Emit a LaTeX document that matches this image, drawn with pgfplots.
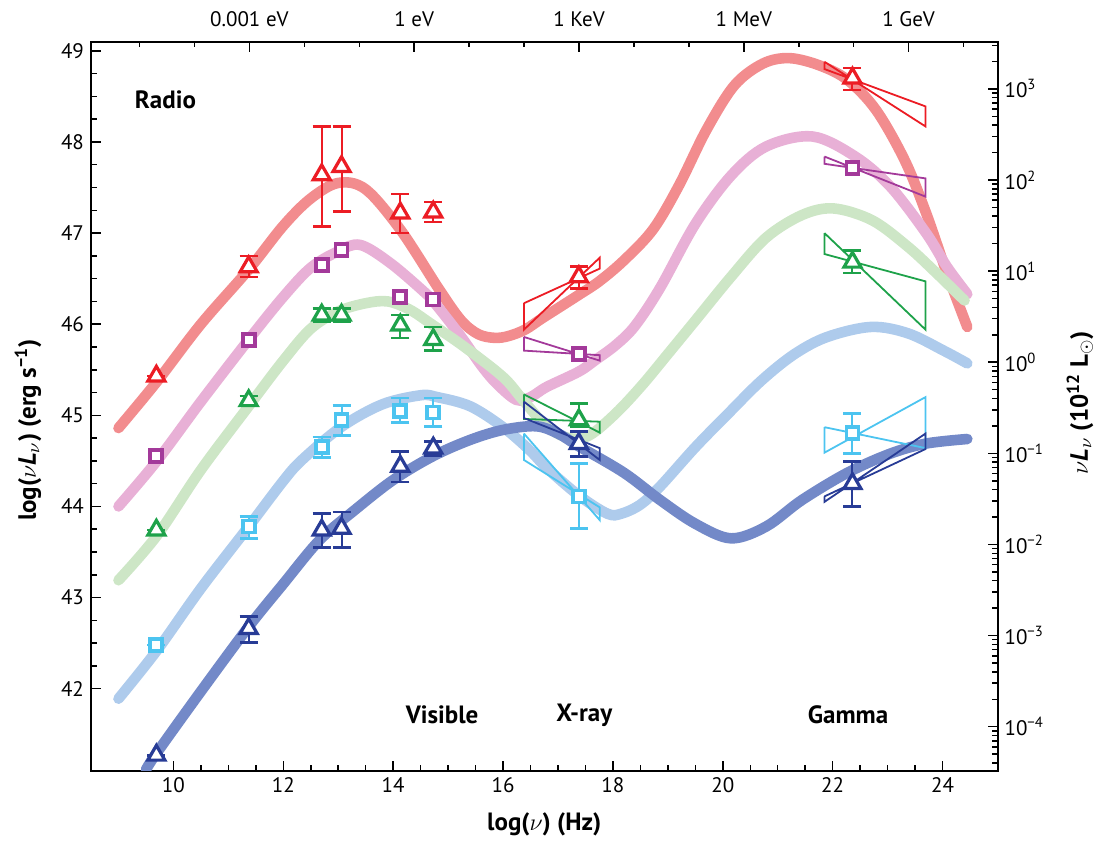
\documentclass[border=0pt]{standalone}
\usepackage{pgfplots}
\pgfplotsset{compat=1.18}
\usepackage{pgfplotstable}
\usepackage{fontspec}
\setmainfont{PT Sans}

\definecolor{cRed}{HTML}{F28C8E}
\definecolor{cPink}{HTML}{E8B0D6}
\definecolor{cGreen}{HTML}{CDE6C6}
\definecolor{cLBlue}{HTML}{AECBEC}
\definecolor{cDBlue}{HTML}{7389C8}
\definecolor{mRed}{HTML}{EC1C24}
\definecolor{mMag}{HTML}{A3399A}
\definecolor{mGreen}{HTML}{1EA24A}
\definecolor{mCyan}{HTML}{4CC4F0}
\definecolor{mNavy}{HTML}{283C96}

% data points: x, y, error plus, error minus
\pgfplotstableread{
x y ep em
9.69 45.43 0 0
11.37 46.63 0.12 0.11
12.70 47.64 0.53 0.57
13.06 47.73 0.44 0.49
14.13 47.22 0.21 0.22
14.73 47.23 0.11 0.11
17.38 46.52 0.11 0.13
22.36 48.70 0.11 0.13
}\redpts
\pgfplotstableread{
x y
9.69 44.55
11.37 45.83
12.70 46.65
13.06 46.81
14.13 46.30
14.73 46.27
17.38 45.67
22.36 47.71
}\magpts
\pgfplotstableread{
x y ep em
9.69 43.74 0 0
11.37 45.16 0.05 0.05
12.70 46.10 0.07 0.07
13.06 46.10 0.07 0.07
14.13 45.99 0.11 0.14
14.73 45.83 0.14 0.12
17.38 44.95 0.18 0.07
22.36 46.68 0.13 0.12
}\grnpts
\pgfplotstableread{
x y ep em
9.69 42.48 0 0
11.37 43.78 0.11 0.13
12.70 44.65 0.11 0.11
13.06 44.95 0.16 0.17
14.13 45.05 0.14 0.13
14.73 45.03 0.16 0.15
17.38 44.11 0.36 0.35
22.36 44.81 0.21 0.23
}\cyanpts
\pgfplotstableread{
x y ep em
9.69 41.27 0 0
11.37 42.66 0.13 0.15
12.70 43.74 0.18 0.19
13.06 43.76 0.18 0.21
14.13 44.44 0.16 0.17
14.73 44.64 0.07 0.08
17.38 44.69 0.13 0.14
22.36 44.25 0.24 0.25
}\navypts

\pgfplotsset{
  base/.style={scale only axis, width=453.25pt, height=364.5pt,
    xmin=8.5, xmax=25,
    tick align=inside,
    major tick length=5pt, minor tick length=2.8pt,
    every tick/.style={black, line width=0.75pt},
    /pgf/number format/assume math mode=true,
    tick label style={font=\fontsize{10.5}{12}\selectfont},
  },
  curve/.style={line width=5.3pt, line cap=round, line join=round, smooth, tension=0.55},
  bow/.style={line width=0.9pt, line join=miter, mark=none},
  errs/.style={only marks, mark=none, line width=1pt,
    error bars/y dir=both, error bars/y explicit,
    error bars/error mark=-,
    error bars/error bar style={line width=1pt},
    error bars/error mark options={rotate=90, line width=1.3pt, mark size=4.5pt}},
  tri/.style={only marks, mark=triangle*, mark size=4.9pt,
    mark options={fill=white, line width=1.6pt, solid}},
  sq/.style={only marks, mark=square*, mark size=3.0pt,
    mark options={fill=white, line width=1.9pt, solid}},
}

\begin{document}
\begin{tikzpicture}
\path[use as bounding box] (-45.5pt,-35.15pt) rectangle (509pt,385.35pt);

% ---------------- main axis -----------------
\begin{axis}[base,
  ymin=41.1, ymax=49.1,
  xtick={10,12,...,24}, minor x tick num=3,
  ytick={42,...,49}, minor y tick num=3,
  xtick pos=left, ytick pos=left,
  axis line style={line width=1pt},
  xlabel={\bfseries log($\nu$) (Hz)},
  ylabel={\bfseries log($\nu$\textbf{\textit{L}}$_{\nu}$) (erg s\textsuperscript{−1})},
  x label style={at={(axis description cs:0.5,-0.074)}, anchor=center, font=\fontsize{12.5}{15}\selectfont},
  y label style={at={(axis description cs:-0.0695,0.467)}, anchor=center, font=\fontsize{12.5}{15}\selectfont},
]

% model curves
\addplot[curve, cRed] coordinates {
(9.0,44.86)(9.7,45.37)(10.5,46.0)(11.37,46.6)(12.0,47.08)(12.5,47.38)(13.0,47.55)(13.5,47.48)(14.14,47.03)(14.85,46.37)(15.24,46.04)(15.55,45.89)(15.85,45.85)(16.1,45.87)(16.4,45.94)(16.7,46.06)(17.09,46.21)(17.4,46.33)(17.75,46.47)(18.2,46.7)(18.73,47.04)(19.2,47.52)(19.7,48.13)(20.21,48.62)(20.73,48.86)(21.21,48.92)(21.76,48.84)(22.27,48.68)(22.79,48.35)(23.31,47.8)(23.7,47.22)(24.08,46.56)(24.45,45.97)
};
\addplot[curve, cPink] coordinates {
(9.0,44.0)(9.7,44.5)(10.5,45.15)(11.37,45.83)(12.0,46.3)(12.5,46.62)(13.0,46.8)(13.4,46.87)(13.95,46.67)(14.59,46.34)(14.8,46.2)(15.24,45.86)(15.6,45.55)(15.88,45.35)(16.24,45.17)(16.5,45.2)(16.79,45.31)(17.38,45.48)(17.69,45.61)(18.05,45.77)(18.4,45.98)(18.86,46.4)(19.5,47.1)(20.15,47.63)(20.79,47.95)(21.63,48.06)(22.41,47.84)(23.05,47.51)(23.7,47.0)(24.08,46.63)(24.45,46.33)
};
% magenta squares sit beneath the green model curve
\addplot[mMag, sq] table[x=x, y=y] {\magpts};
\addplot[curve, cGreen] coordinates {
(9.0,43.19)(9.7,43.68)(10.5,44.4)(11.37,45.1)(12.0,45.6)(12.5,45.95)(13.0,46.14)(13.5,46.23)(13.9,46.25)(14.3,46.16)(14.7,46.0)(15.3,45.75)(16.0,45.42)(16.36,45.17)(16.79,44.88)(17.2,44.75)(17.57,44.78)(18.05,45.02)(18.53,45.33)(19.01,45.68)(19.5,46.04)(20.15,46.52)(20.79,46.95)(21.45,47.2)(22.02,47.27)(22.72,47.14)(23.37,46.85)(23.89,46.56)(24.4,46.26)
};
\addplot[curve, cLBlue] coordinates {
(9.0,41.89)(9.7,42.42)(10.5,43.1)(11.37,43.78)(12.0,44.28)(12.34,44.51)(13.05,44.87)(13.8,45.12)(14.5,45.22)(14.8,45.2)(15.4,45.1)(16.0,44.87)(16.48,44.62)(16.8,44.42)(17.38,44.12)(17.9,43.92)(18.15,43.92)(18.5,44.02)(18.86,44.22)(19.5,44.65)(20.1,45.02)(20.7,45.38)(21.3,45.67)(21.9,45.86)(22.7,45.97)(23.37,45.9)(24.02,45.71)(24.45,45.57)
};
\addplot[curve, cDBlue] coordinates {
(9.5,41.11)(9.69,41.29)(10.5,41.97)(11.37,42.68)(12.0,43.15)(12.66,43.63)(13.3,43.96)(14.0,44.29)(14.72,44.55)(15.4,44.73)(16.0,44.84)(16.6,44.88)(17.0,44.8)(17.38,44.66)(18.2,44.37)(18.86,44.07)(19.5,43.81)(20.15,43.65)(20.79,43.78)(21.44,44.07)(22.27,44.37)(23.05,44.58)(23.7,44.69)(24.45,44.74)
};

% bow ties (X-ray and gamma-ray spectral ranges)
\addplot[bow, mRed] coordinates {(16.38,46.23)(17.76,46.61)(17.76,46.73)(16.38,45.94)(16.38,46.23)};
\addplot[bow, mMag] coordinates {(16.38,45.86)(17.76,45.60)(17.76,45.66)(16.38,45.71)(16.38,45.86)};
\addplot[bow, mGreen] coordinates {(16.38,45.23)(17.76,44.81)(17.76,44.93)(16.38,44.96)(16.38,45.23)};
\addplot[bow, mNavy] coordinates {(16.38,45.15)(17.76,44.51)(17.76,44.64)(16.38,44.97)(16.38,45.15)};
\addplot[bow, mCyan] coordinates {(16.38,44.80)(17.76,43.85)(17.76,43.99)(16.38,44.51)(16.38,44.80)};
\addplot[bow, mRed] coordinates {(21.85,48.88)(23.69,48.17)(23.69,48.39)(21.85,48.80)(21.85,48.88)};
\addplot[bow, mMag] coordinates {(21.85,47.84)(23.69,47.40)(23.69,47.60)(21.85,47.76)(21.85,47.84)};
\addplot[bow, mGreen] coordinates {(21.85,47.00)(23.69,45.94)(23.69,46.47)(21.85,46.77)(21.85,47.00)};
\addplot[bow, mCyan] coordinates {(21.85,44.87)(23.69,44.64)(23.69,45.20)(21.85,44.59)(21.85,44.87)};
\addplot[bow, mNavy] coordinates {(21.85,44.11)(23.69,44.63)(23.69,44.80)(21.85,44.05)(21.85,44.11)};

% magenta X-ray and gamma squares on top of their bow ties
\addplot[mMag, sq] table[x=x, y=y, skip first n=6] {\magpts};

% error bars (points with non-zero errors)
\addplot[mRed, errs] table[x=x, y=y, y error plus=ep, y error minus=em, skip first n=1] {\redpts};
\addplot[mGreen, errs] table[x=x, y=y, y error plus=ep, y error minus=em, skip first n=1] {\grnpts};
\addplot[mCyan, errs] table[x=x, y=y, y error plus=ep, y error minus=em, skip first n=1] {\cyanpts};
\addplot[mNavy, errs] table[x=x, y=y, y error plus=ep, y error minus=em, skip first n=1] {\navypts};

% markers
\addplot[mRed, tri] table[x=x, y=y] {\redpts};
\addplot[mGreen, tri] table[x=x, y=y] {\grnpts};
\addplot[mCyan, sq] table[x=x, y=y] {\cyanpts};
\addplot[mNavy, tri] table[x=x, y=y] {\navypts};

% band labels
\node[font=\bfseries\fontsize{12.5}{15}\selectfont, anchor=west] at (axis cs:9.17,48.46) {Radio};
\node[font=\bfseries\fontsize{12.5}{15}\selectfont] at (axis cs:14.89,41.71) {Visible};
\node[font=\bfseries\fontsize{12.5}{15}\selectfont] at (axis cs:17.48,41.71) {X-ray};
\node[font=\bfseries\fontsize{12.5}{15}\selectfont] at (axis cs:22.28,41.71) {Gamma};
\end{axis}

% ---------------- top energy axis -----------------
\begin{axis}[base,
  ymin=0, ymax=1,
  axis x line*=top, axis y line=none,
  axis line style={draw=none},
  xtick={11.383,14.383,17.383,20.383,23.383},
  xticklabels={0.001 eV,1 eV,1 KeV,1 MeV,1 GeV},
  xticklabel style={yshift=4pt},
  minor xtick={9.383,10.383,12.383,13.383,15.383,16.383,18.383,19.383,21.383,22.383,24.383},
]
\end{axis}

% ---------------- right luminosity axis -----------------
\begin{axis}[base,
  ymode=log, ymin=3.289e-5, ymax=3289,
  axis y line*=right, axis x line=none,
  axis line style={draw=none},
  ytick={1e-4,1e-3,1e-2,1e-1,1,10,100,1000},
  yticklabels={10\textsuperscript{−4},10\textsuperscript{−3},10\textsuperscript{−2},10\textsuperscript{−1},10\textsuperscript{0},10\textsuperscript{1},10\textsuperscript{2},10\textsuperscript{3}},
  minor ytick={4e-5,5e-5,6e-5,7e-5,8e-5,9e-5,
    2e-4,3e-4,4e-4,5e-4,6e-4,7e-4,8e-4,9e-4,
    2e-3,3e-3,4e-3,5e-3,6e-3,7e-3,8e-3,9e-3,
    2e-2,3e-2,4e-2,5e-2,6e-2,7e-2,8e-2,9e-2,
    0.2,0.3,0.4,0.5,0.6,0.7,0.8,0.9,
    2,3,4,5,6,7,8,9,20,30,40,50,60,70,80,90,
    200,300,400,500,600,700,800,900,2000,3000},
  ylabel={\bfseries $\nu$\textbf{\textit{L}}$_{\nu}$ (10\textsuperscript{12} L$_{\odot}$)},
  y label style={at={(axis description cs:1.091,0.505)}, anchor=center, font=\fontsize{12.5}{15}\selectfont},
]
\end{axis}
\end{tikzpicture}
\end{document}
